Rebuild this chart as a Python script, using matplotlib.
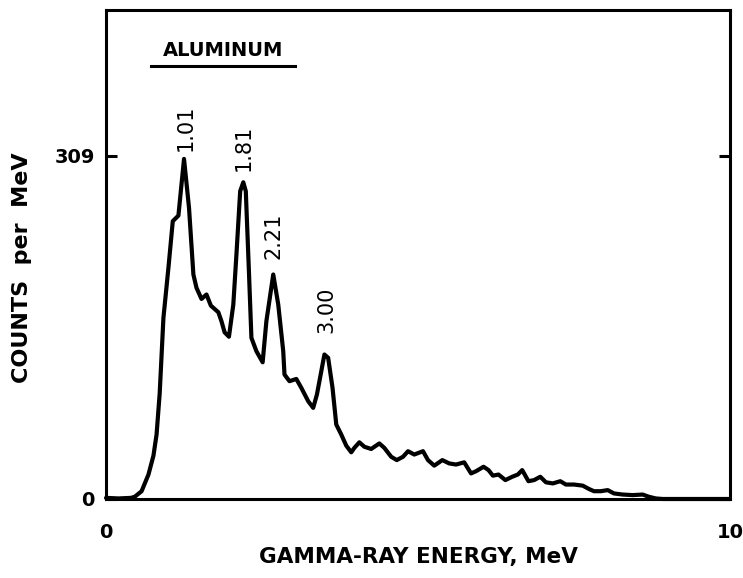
import matplotlib
matplotlib.use("Agg")
import matplotlib.pyplot as plt
from matplotlib.lines import Line2D

# Gamma-ray spectrum of aluminum (energy in MeV, counts per MeV)
energy = [0.0, 0.2, 0.4, 0.46, 0.57, 0.68, 0.76, 0.81, 0.86, 0.92, 1.00, 1.07,
          1.16, 1.25, 1.33, 1.40, 1.45, 1.53, 1.61, 1.68, 1.80, 1.85, 1.90,
          1.97, 2.04, 2.09, 2.15, 2.20, 2.24, 2.29, 2.33, 2.41, 2.51, 2.57,
          2.68, 2.76, 2.84, 2.86, 2.94, 3.05, 3.13, 3.24, 3.32, 3.38, 3.45,
          3.50, 3.56, 3.63, 3.69, 3.77, 3.85, 3.93, 3.98, 4.06, 4.14, 4.25,
          4.38, 4.46, 4.57, 4.66, 4.76, 4.84, 4.94, 5.08, 5.16, 5.26, 5.39,
          5.50, 5.61, 5.74, 5.85, 5.93, 6.05, 6.13, 6.20, 6.29, 6.40, 6.51,
          6.60, 6.67, 6.77, 6.86, 6.96, 7.05, 7.16, 7.28, 7.37, 7.50, 7.64,
          7.74, 7.82, 7.93, 8.04, 8.14, 8.28, 8.44, 8.60, 8.70, 8.81, 8.92,
          9.30, 10.0]
counts = [1, 0.5, 1, 2, 7, 22, 39, 58, 95, 163, 208, 250,
          255, 306, 262, 202, 190, 180, 184, 174, 168, 160, 150,
          146, 175, 220, 277, 285, 277, 205, 145, 133, 123, 160,
          202, 175, 133, 112, 106, 108, 100, 88, 82, 94, 115,
          130, 127, 100, 67, 58, 48, 42, 46, 51, 47, 45,
          50, 46, 38, 35, 38, 43, 40, 43, 35, 30, 35,
          32, 31, 33, 23, 25, 29, 26, 21, 22, 17, 20,
          22, 26, 16, 17, 20, 15, 14, 16, 13, 13, 12,
          9, 7, 7, 8, 5, 4, 3.5, 4, 2, 0.5, 0,
          0, 0]

# Identified lines: label text and where it sits
peak_labels = ["1.01", "1.81", "2.21", "3.00"]
peak_label_x = [1.27, 2.20, 2.68, 3.53]
peak_label_y = [334, 316, 237, 170]

x_ticks = [0, 10]
x_tick_labels = ["0", "10"]
y_ticks = [0, 309]
y_tick_labels = ["0", "309"]

FONT = "DejaVu Sans"
plt.rcParams["font.family"] = [FONT]

fig = plt.figure(figsize=(7.43, 5.78), dpi=100)
ax = fig.add_axes([0.1427, 0.1367, 0.8398, 0.846])

ax.plot(energy, counts, color="black", lw=3.0, solid_joinstyle="round",
        solid_capstyle="round", clip_on=False, zorder=3)

ax.set_xlim(0, 10)
ax.set_ylim(0, 440)

for s in ax.spines.values():
    s.set_linewidth(2.2)

ax.set_xticks(x_ticks)
ax.set_xticklabels(x_tick_labels)
ax.set_yticks(y_ticks)
ax.set_yticklabels(y_tick_labels)
ax.tick_params(axis="x", length=0, pad=17, labelsize=14)
ax.tick_params(axis="y", direction="in", length=8, width=2.2, pad=8,
               labelsize=14, right=True)
for lab in ax.get_xticklabels() + ax.get_yticklabels():
    lab.set_fontweight("bold")

ax.set_xlabel("GAMMA-RAY ENERGY, MeV", fontsize=15.5, fontweight="bold",
              labelpad=4)
ax.set_ylabel("COUNTS  per  MeV", fontsize=16, fontweight="bold")
ax.yaxis.set_label_coords(-0.118, 0.472)

for txt, px, py in zip(peak_labels, peak_label_x, peak_label_y):
    ax.text(px, py, txt, rotation=90, ha="center", va="center",
            fontsize=15)

ax.text(0.1875, 0.918, "ALUMINUM", transform=ax.transAxes, ha="center",
        va="center", fontsize=14, fontweight="bold")
ax.add_line(Line2D([0.072, 0.303], [0.885, 0.885], transform=ax.transAxes,
                   color="black", lw=2.2))

fig.savefig("out.png", dpi=100)
